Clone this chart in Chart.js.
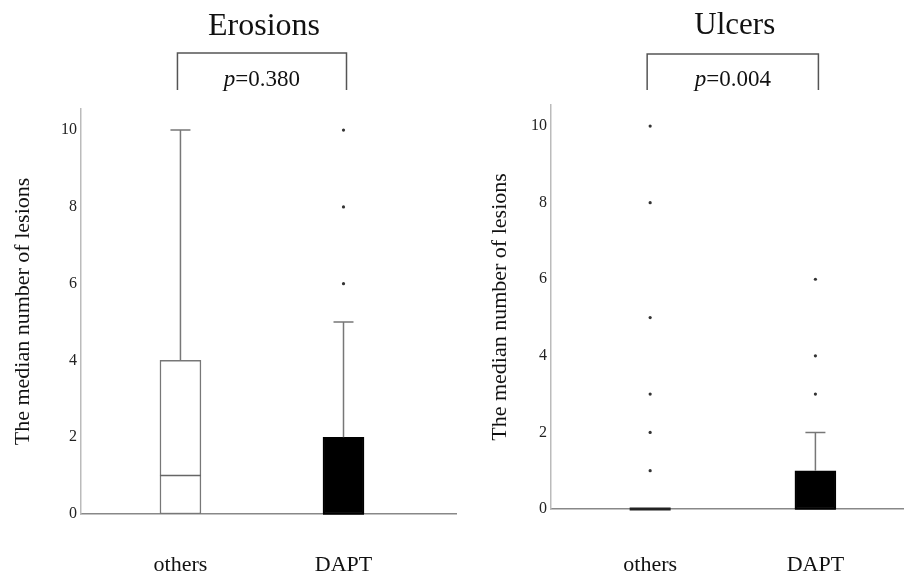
<!DOCTYPE html>
<html>
<head>
<meta charset="utf-8">
<script src="https://cdn.jsdelivr.net/npm/chart.js@4.4.1/dist/chart.umd.min.js"></script>
<style>
  body { margin: 0; background: #fff; width: 907px; height: 576px; position: relative; overflow: hidden; }
  .panel { position: absolute; top: 0; height: 576px; }
  canvas { display: block; }
</style>
</head>
<body>
<div class="panel" style="left:0;width:460px"><canvas id="erosions" width="460" height="576"></canvas></div>
<div class="panel" style="left:460px;width:447px"><canvas id="ulcers" width="447" height="576"></canvas></div>
<script>
const groups = ['others', 'DAPT'];
const groupX = [1, 2];
const yTitle = 'The median number of lesions';

// Erosions
const erosionQ1 = [0, 0];
const erosionMedian = [1, 0];
const erosionQ3 = [4, 2];
const erosionWhiskerHi = [10, 5];
const erosionOutliers = [[], [6, 8, 10]];
const erosionP = '0.380';

// Ulcers
const ulcerQ1 = [0, 0];
const ulcerMedian = [0, 0];
const ulcerQ3 = [0, 1];
const ulcerWhiskerHi = [0, 2];
const ulcerOutliers = [[1, 2, 3, 5, 8, 10], [3, 4, 6]];
const ulcerP = '0.004';

const serif = "'Liberation Serif', 'Times New Roman', serif";

// whiskers, medians, title and the p-value bracket
const boxExtras = {
  id: 'boxExtras',
  afterDatasetsDraw(chart, args, opts) {
    const ctx = chart.ctx;
    const x = chart.scales.x, y = chart.scales.y;
    ctx.save();
    groupX.forEach((gx, i) => {
      const cx = x.getPixelForValue(gx);
      const q3 = y.getPixelForValue(opts.q3[i]);
      const hi = y.getPixelForValue(opts.whiskerHi[i]);
      ctx.strokeStyle = '#777';
      ctx.lineWidth = 1.5;
      if (opts.whiskerHi[i] > opts.q3[i]) {
        ctx.beginPath();
        ctx.moveTo(cx, q3); ctx.lineTo(cx, hi);
        ctx.moveTo(cx - 10, hi); ctx.lineTo(cx + 10, hi);
        ctx.stroke();
      }
      const my = y.getPixelForValue(opts.median[i]);
      const flat = opts.q1[i] === opts.q3[i];
      ctx.strokeStyle = flat ? '#222' : (i === 1 ? '#000' : '#666');
      ctx.lineWidth = flat ? 3 : 1.5;
      ctx.beginPath();
      ctx.moveTo(cx - 20.5, my); ctx.lineTo(cx + 20.5, my);
      ctx.stroke();
    });

    const x1 = x.getPixelForValue(groupX[0]) - 3;
    const x2 = x.getPixelForValue(groupX[1]) + 3;
    const mid = (x1 + x2) / 2;

    ctx.fillStyle = '#111';
    ctx.textAlign = 'center';
    ctx.textBaseline = 'alphabetic';
    ctx.font = opts.titleSize + 'px ' + serif;
    ctx.fillText(opts.title, mid + 2, opts.titleY);

    ctx.strokeStyle = '#555';
    ctx.lineWidth = 1.5;
    ctx.beginPath();
    ctx.moveTo(x1, opts.bracketBottom); ctx.lineTo(x1, opts.bracketY);
    ctx.lineTo(x2, opts.bracketY); ctx.lineTo(x2, opts.bracketBottom);
    ctx.stroke();

    ctx.textAlign = 'left';
    ctx.font = 'italic 23px ' + serif;
    const wp = ctx.measureText('p').width;
    ctx.font = '23px ' + serif;
    const rest = '=' + opts.p;
    const wr = ctx.measureText(rest).width;
    const start = mid - (wp + wr) / 2;
    ctx.font = 'italic 23px ' + serif;
    ctx.fillText('p', start, 86);
    ctx.font = '23px ' + serif;
    ctx.fillText(rest, start + wp, 86);
    ctx.restore();
  }
};

function makeChart(id, d) {
  return new Chart(document.getElementById(id), {
    type: 'bar',
    data: {
      datasets: [
        {
          type: 'bar',
          data: groupX.map((gx, i) => ({ x: gx, y: [d.q1[i], d.q3[i]] })),
          backgroundColor: ['#fff', '#000'],
          borderColor: ['#777', '#000'],
          borderWidth: 1.5,
          borderSkipped: false,
          barThickness: 41
        },
        {
          type: 'scatter',
          data: d.outliers.flatMap((vals, i) => vals.map(v => ({ x: groupX[i], y: v }))),
          backgroundColor: '#333',
          borderWidth: 0,
          pointRadius: 1.6
        }
      ]
    },
    options: {
      responsive: false,
      animation: false,
      layout: { padding: d.padding },
      plugins: {
        legend: { display: false },
        tooltip: { enabled: false },
        boxExtras: {
          q1: d.q1, q3: d.q3, median: d.median, whiskerHi: d.whiskerHi,
          title: d.title, titleSize: d.titleSize, titleY: d.titleY,
          bracketY: d.bracketY, bracketBottom: 90, p: d.p
        }
      },
      scales: {
        x: {
          type: 'linear',
          offset: false,
          min: d.xMin,
          max: d.xMax,
          afterBuildTicks: s => { s.ticks = groupX.map(v => ({ value: v })); },
          afterFit: s => { s.height = 62; },
          grid: { display: false, drawTicks: false },
          border: { color: '#888', width: 1.5 },
          ticks: {
            callback: v => groups[groupX.indexOf(v)],
            font: { family: serif, size: 22 },
            color: '#111',
            padding: d.xTickPad,
            maxRotation: 0
          }
        },
        y: {
          min: 0,
          max: 10.55,
          afterFit: s => { s.width = d.yWidth; },
          grid: { display: false, drawTicks: false },
          border: { color: '#bbb', width: 1.5 },
          ticks: {
            stepSize: 2,
            includeBounds: false,
            font: { family: serif, size: 16 },
            color: '#222',
            padding: 4
          },
          title: {
            display: true,
            text: yTitle,
            font: { family: serif, size: 22 },
            color: '#111',
            padding: { top: 10, bottom: 0 }
          }
        }
      }
    },
    plugins: [boxExtras]
  });
}

makeChart('erosions', {
  q1: erosionQ1, median: erosionMedian, q3: erosionQ3, whiskerHi: erosionWhiskerHi,
  outliers: erosionOutliers, p: erosionP,
  title: 'Erosions', titleSize: 32, titleY: 35, bracketY: 53,
  padding: { top: 109, right: 2, bottom: 0, left: 0 },
  yWidth: 81, xMin: 0.39, xMax: 2.69, xTickPad: 38
});

makeChart('ulcers', {
  q1: ulcerQ1, median: ulcerMedian, q3: ulcerQ3, whiskerHi: ulcerWhiskerHi,
  outliers: ulcerOutliers, p: ulcerP,
  title: 'Ulcers', titleSize: 31, titleY: 34, bracketY: 54,
  padding: { top: 105, right: 2, bottom: 5, left: 17 },
  yWidth: 74, xMin: 0.4, xMax: 2.53, xTickPad: 43
});
</script>
</body>
</html>
